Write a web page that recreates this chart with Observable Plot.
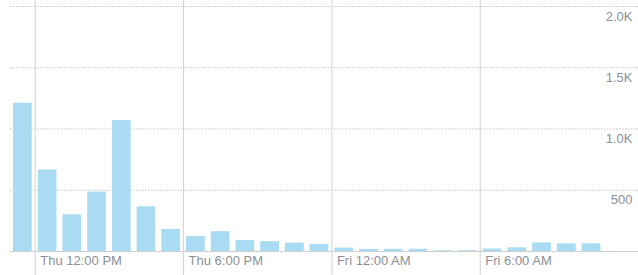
<!DOCTYPE html>
<html>
<head>
<meta charset="utf-8">
<script src="https://cdn.jsdelivr.net/npm/d3@7"></script>
<script src="https://cdn.jsdelivr.net/npm/@observablehq/plot@0.6"></script>
<style>
  html, body { margin: 0; padding: 0; background: #fff; }
  #chart svg { display: block; }
</style>
</head>
<body>
<div id="chart"></div>
<script>
const hours = [
  "2024-01-04T11:00Z", "2024-01-04T12:00Z", "2024-01-04T13:00Z", "2024-01-04T14:00Z",
  "2024-01-04T15:00Z", "2024-01-04T16:00Z", "2024-01-04T17:00Z", "2024-01-04T18:00Z",
  "2024-01-04T19:00Z", "2024-01-04T20:00Z", "2024-01-04T21:00Z", "2024-01-04T22:00Z",
  "2024-01-04T23:00Z", "2024-01-05T00:00Z", "2024-01-05T01:00Z", "2024-01-05T02:00Z",
  "2024-01-05T03:00Z", "2024-01-05T04:00Z", "2024-01-05T05:00Z", "2024-01-05T06:00Z",
  "2024-01-05T07:00Z", "2024-01-05T08:00Z", "2024-01-05T09:00Z", "2024-01-05T10:00Z"
];
const counts = [1210, 665, 300, 485, 1070, 365, 180, 122, 162, 90, 80, 68, 57, 28, 16, 18, 18, 6, 6, 20, 30, 70, 63, 63];
const xTicks = ["2024-01-04T12:00Z", "2024-01-04T18:00Z", "2024-01-05T00:00Z", "2024-01-05T06:00Z"].map(s => new Date(s));
const yTicks = [500, 1000, 1500, 2000];
const xDomain = [new Date("2024-01-04T11:00Z"), new Date("2024-01-05T12:24Z")];
const yDomain = [0, 2000];

const data = hours.map((h, i) => {
  const t = new Date(h);
  return {start: t, end: d3.utcHour.offset(t, 1), value: counts[i]};
});

const fmtX = d3.utcFormat("%a %-I:%M %p");
const fmtY = d => d >= 1000 ? (d / 1000).toFixed(1) + "K" : String(d);

const chart = Plot.plot({
  width: 638,
  height: 275,
  marginLeft: 10,
  marginRight: 0,
  marginTop: 6,
  marginBottom: 24,
  style: {fontFamily: "'Liberation Sans', Arial, sans-serif", fontSize: "13px", background: "#fff"},
  x: {type: "utc", domain: xDomain},
  y: {domain: yDomain},
  marks: [
    Plot.ruleX(xTicks, {stroke: "#d2d2d2", strokeWidth: 1, insetTop: -6, insetBottom: -24}),
    Plot.ruleY(yTicks, {stroke: "#c4c4c4", strokeDasharray: "1.5,1.5", strokeWidth: 1}),
    Plot.rectY(data, {x1: "start", x2: "end", y: "value", fill: "#a9dbf3", insetLeft: 3, insetRight: 3}),
    Plot.ruleY([0], {stroke: "#cfcfcf", strokeWidth: 1}),
    Plot.axisX({ticks: xTicks, tickSize: 0, tickPadding: 4, textAnchor: "start", dx: 5, tickFormat: fmtX, fill: "#8b9096", label: null}),
    Plot.axisY({anchor: "right", ticks: yTicks, tickSize: 0, tickPadding: 0, textAnchor: "end", dx: -6, dy: 10, tickFormat: fmtY, fill: "#8b9096", label: null})
  ]
});
document.getElementById("chart").appendChild(chart);
</script>
</body>
</html>
